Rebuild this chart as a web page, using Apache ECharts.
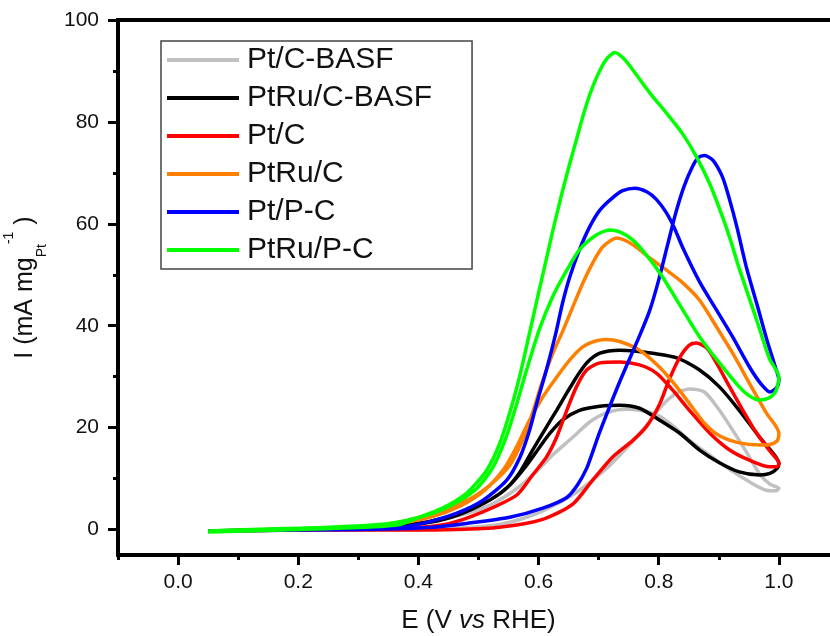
<!DOCTYPE html>
<html>
<head>
<meta charset="utf-8">
<script src="https://cdn.jsdelivr.net/npm/echarts@6/dist/echarts.min.js"></script>
<style>
  html, body { margin: 0; padding: 0; background: #fff; }
  #chart { width: 830px; height: 636px; }
</style>
</head>
<body>
<div id="chart"></div>
<script>
// [E (V vs RHE), I (mA mg_Pt^-1)] — forward scan then backward scan
var ptcBasf = [
  [0.05, -0.3], [0.2, -0.1], [0.37, 0], [0.46, 0.25], [0.535, 1.0], [0.585, 2.6], [0.627, 4.8],
  [0.668, 7.7], [0.713, 12.0], [0.751, 16.6], [0.78, 20.5], [0.806, 24.4], [0.83, 26.8],
  [0.851, 27.6], [0.876, 27.0], [0.901, 23.4], [0.923, 19.5], [0.946, 15.2], [0.968, 10.9],
  [0.985, 8.9], [1.0, 8.1],
  [0.995, 7.6], [0.979, 7.7], [0.946, 9.7], [0.913, 12.2], [0.88, 15.0], [0.851, 17.5],
  [0.822, 20.5], [0.796, 22.6], [0.768, 23.4], [0.746, 23.6], [0.713, 22.9], [0.685, 21.1],
  [0.657, 18.1], [0.623, 14.6], [0.594, 11.1], [0.56, 7.7], [0.519, 4.8], [0.469, 2.8],
  [0.402, 1.2], [0.319, 0.45], [0.2, 0.06], [0.05, -0.3]
];
var ptruBasf = [
  [0.05, -0.3], [0.2, 0], [0.335, 0.25], [0.419, 1.4], [0.469, 3.0], [0.51, 5.2], [0.543, 7.7],
  [0.568, 11.1], [0.59, 15.6], [0.613, 20.1], [0.63, 23.4], [0.647, 26.8], [0.663, 29.9],
  [0.68, 32.7], [0.702, 34.6], [0.735, 35.2], [0.763, 35.0], [0.79, 34.6], [0.83, 33.7],
  [0.868, 31.3], [0.901, 28.0], [0.934, 23.4], [0.968, 18.1], [0.99, 15.0], [1.0, 13.0],
  [0.997, 12.0], [0.985, 11.0], [0.968, 10.7], [0.934, 11.3], [0.901, 13.1], [0.868, 15.6],
  [0.835, 18.9], [0.801, 21.5], [0.768, 23.8], [0.735, 24.4], [0.702, 24.2], [0.668, 23.4],
  [0.64, 21.5], [0.619, 18.9], [0.602, 16.2], [0.58, 12.6], [0.552, 8.7], [0.519, 5.8],
  [0.469, 3.2], [0.419, 1.6], [0.352, 0.65], [0.252, 0.25], [0.05, -0.3]
];
var ptc = [
  [0.05, -0.3], [0.2, -0.1], [0.369, -0.1], [0.464, 0], [0.535, 0.45], [0.607, 2.0],
  [0.657, 5.0], [0.69, 9.7], [0.723, 14.2], [0.757, 17.5], [0.78, 20.3], [0.801, 24.5],
  [0.818, 29.6], [0.835, 33.8], [0.851, 36.2], [0.863, 36.6], [0.88, 35.6], [0.896, 32.7],
  [0.918, 28.0], [0.94, 23.4], [0.963, 18.9], [0.985, 15.4], [1.0, 13.0],
  [0.997, 12.3], [0.985, 12.3], [0.951, 13.6], [0.918, 15.6], [0.885, 18.9], [0.851, 23.4],
  [0.823, 27.4], [0.796, 30.7], [0.768, 32.3], [0.735, 32.9], [0.702, 32.7], [0.68, 31.3],
  [0.663, 28.0], [0.647, 23.4], [0.63, 18.1], [0.613, 14.2], [0.59, 10.7], [0.563, 6.7],
  [0.502, 3.2], [0.452, 1.2], [0.402, 0.45], [0.286, 0.06], [0.05, -0.3]
];
var ptruc = [
  [0.05, -0.3], [0.2, 0], [0.319, 0.25], [0.402, 2.4], [0.452, 4.4], [0.49, 6.3], [0.523, 9.1],
  [0.552, 12.6], [0.573, 17.4], [0.59, 22.9], [0.605, 28.6], [0.623, 34.4], [0.64, 38.9],
  [0.657, 43.7], [0.673, 48.2], [0.69, 52.3], [0.707, 55.5], [0.73, 57.2], [0.757, 55.9],
  [0.785, 53.3], [0.813, 50.9], [0.84, 48.4], [0.868, 45.0], [0.896, 39.8], [0.923, 34.6],
  [0.951, 28.7], [0.979, 22.9], [1.0, 18.9],
  [0.997, 17.4], [0.985, 16.7], [0.968, 16.6], [0.934, 17.0], [0.901, 18.4], [0.878, 20.6],
  [0.857, 23.8], [0.83, 28.0], [0.801, 31.9], [0.768, 35.2], [0.735, 36.9], [0.713, 37.3],
  [0.695, 37.0], [0.673, 35.8], [0.652, 33.3], [0.63, 29.9], [0.607, 26.0], [0.585, 21.5],
  [0.565, 16.6], [0.543, 12.0], [0.51, 7.7], [0.469, 4.6], [0.419, 2.4], [0.352, 1.0],
  [0.252, 0.25], [0.05, -0.3]
];
var ptPc = [
  [0.05, -0.3], [0.2, -0.1], [0.335, 0.06], [0.424, 0.45], [0.48, 1.2], [0.552, 2.4],
  [0.607, 4.2], [0.647, 6.3], [0.665, 8.8], [0.68, 12.0], [0.69, 15.2], [0.702, 19.2],
  [0.735, 29.0], [0.768, 38.0], [0.785, 43.0], [0.8, 49.0], [0.815, 56.0], [0.828, 62.0],
  [0.842, 67.3], [0.856, 71.2], [0.866, 73.0], [0.876, 73.4], [0.89, 72.5], [0.906, 69.2],
  [0.918, 64.7], [0.93, 59.4], [0.946, 51.4], [0.963, 44.4], [0.98, 37.2], [0.994, 31.9],
  [1.0, 29.3],
  [0.996, 27.8], [0.985, 27.0], [0.97, 28.6], [0.951, 31.9], [0.923, 37.8], [0.896, 43.1],
  [0.868, 48.6], [0.84, 55.3], [0.826, 59.2], [0.812, 62.3], [0.796, 64.8], [0.78, 66.3],
  [0.76, 67.0], [0.74, 66.5], [0.723, 65.1], [0.702, 62.7], [0.685, 59.4], [0.668, 54.9],
  [0.652, 49.6], [0.64, 44.5], [0.628, 38.2], [0.613, 31.3], [0.597, 24.8], [0.585, 19.5],
  [0.569, 14.2], [0.547, 9.7], [0.507, 5.7], [0.464, 3.2], [0.414, 1.4], [0.369, 0.45],
  [0.27, 0.06], [0.05, -0.3]
];
var ptruPc = [
  [0.05, -0.5], [0.2, 0], [0.319, 0.5], [0.369, 1.0], [0.397, 2.2], [0.44, 4.2], [0.48, 7.1],
  [0.514, 11.7], [0.535, 16.8], [0.552, 22.9], [0.569, 30.3], [0.585, 38.6], [0.598, 45.4],
  [0.612, 52.6], [0.625, 59.3], [0.638, 65.6], [0.65, 71.0], [0.663, 76.5], [0.675, 81.6],
  [0.688, 86.3], [0.702, 90.1], [0.715, 92.6], [0.727, 93.6], [0.742, 92.4], [0.757, 90.2],
  [0.785, 85.7], [0.813, 81.7], [0.84, 77.6], [0.863, 73.1], [0.885, 67.8], [0.906, 61.4],
  [0.92, 56.6], [0.934, 51.2], [0.963, 41.1], [0.984, 33.6], [1.0, 29.9],
  [0.995, 27.2], [0.983, 25.8], [0.968, 25.4], [0.95, 26.3], [0.934, 28.0], [0.901, 32.7],
  [0.868, 37.8], [0.84, 43.1], [0.806, 49.6], [0.78, 53.8], [0.757, 56.8], [0.735, 58.4],
  [0.718, 58.8], [0.696, 57.8], [0.668, 54.9], [0.647, 50.9], [0.623, 45.6], [0.601, 39.2],
  [0.58, 31.3], [0.562, 24.0], [0.545, 17.8], [0.523, 12.0], [0.494, 7.7], [0.452, 4.6],
  [0.402, 2.4], [0.352, 1.2], [0.252, 0.45], [0.136, 0.06], [0.05, -0.3]
];

var seriesNames = ['Pt/C-BASF', 'PtRu/C-BASF', 'Pt/C', 'PtRu/C', 'Pt/P-C', 'PtRu/P-C'];
var seriesColors = ['#c0c0c0', '#000000', '#ff0000', '#ff8000', '#0000ff', '#00ff00'];
var seriesData = [ptcBasf, ptruBasf, ptc, ptruc, ptPc, ptruPc];

var xMajorTicks = [0, 0.2, 0.4, 0.6, 0.8, 1.0];
var xMinorTicks = [-0.1, 0.1, 0.3, 0.5, 0.7, 0.9];
var yMajorTicks = [0, 20, 40, 60, 80, 100];
var yMinorTicks = [10, 30, 50, 70, 90];

var font = 'Liberation Sans, Arial, sans-serif';
var chart = echarts.init(document.getElementById('chart'));

chart.setOption({
  animation: false,
  backgroundColor: '#fff',
  grid: {
    left: 118, top: 20, width: 721, height: 535,
    outerBoundsMode: 'none', containLabel: false,
    show: true, borderColor: '#000', borderWidth: 4
  },
  legend: {
    orient: 'vertical',
    left: 161, top: 41,
    padding: [4, 40, 4, 6],
    borderColor: '#444', borderWidth: 1.5,
    itemWidth: 72, itemHeight: 4, itemGap: 8,
    icon: 'rect',
    textStyle: { fontFamily: font, fontSize: 30, lineHeight: 30, color: '#111', padding: [0, 0, 0, 3] },
    data: seriesNames
  },
  xAxis: [{
    type: 'value', min: -0.1, max: 1.1, position: 'bottom',
    name: '{a|E (V }{i|vs}{a| RHE)}',
    nameLocation: 'middle', nameGap: 53,
    nameTextStyle: {
      rich: {
        a: { fontFamily: font, fontSize: 26, color: '#111' },
        i: { fontFamily: font, fontSize: 26, fontStyle: 'italic', color: '#111' }
      }
    },
    axisLine: { onZero: false, lineStyle: { color: '#000', width: 4 } },
    axisTick: { customValues: xMajorTicks, length: 10, lineStyle: { width: 3, color: '#000' } },
    axisLabel: {
      customValues: xMajorTicks, margin: 17,
      fontFamily: font, fontSize: 21, color: '#111',
      formatter: function (v) { return v.toFixed(1); }
    },
    splitLine: { show: false }
  }, {
    type: 'value', min: -0.1, max: 1.1, position: 'bottom',
    axisLine: { show: false, onZero: false },
    axisTick: { customValues: xMinorTicks, length: 5, lineStyle: { width: 3, color: '#000' } },
    axisLabel: { show: false },
    splitLine: { show: false }
  }],
  yAxis: [{
    type: 'value', min: -5, max: 100, position: 'left',
    name: '{a|I (mA mg}{b|Pt}{c|-1}{a| )}',
    nameLocation: 'middle', nameGap: 69, nameRotate: 90,
    nameTextStyle: {
      rich: {
        a: { fontFamily: font, fontSize: 25, lineHeight: 47, color: '#111' },
        b: { fontFamily: font, fontSize: 14, lineHeight: 14, verticalAlign: 'bottom', color: '#111' },
        c: { fontFamily: font, fontSize: 14, lineHeight: 20, verticalAlign: 'top', color: '#111' }
      }
    },
    axisLine: { onZero: false, lineStyle: { color: '#000', width: 4 } },
    axisTick: { customValues: yMajorTicks, length: 10, lineStyle: { width: 3, color: '#000' } },
    axisLabel: {
      customValues: yMajorTicks, margin: 19,
      fontFamily: font, fontSize: 21, color: '#111'
    },
    splitLine: { show: false }
  }, {
    type: 'value', min: -5, max: 100, position: 'left',
    axisLine: { show: false, onZero: false },
    axisTick: { customValues: yMinorTicks, length: 5, lineStyle: { width: 3, color: '#000' } },
    axisLabel: { show: false },
    splitLine: { show: false }
  }],
  series: seriesNames.map(function (name, i) {
    return {
      name: name,
      type: 'line',
      xAxisIndex: 0,
      yAxisIndex: 0,
      data: seriesData[i],
      smooth: 0.25,
      symbol: 'none',
      color: seriesColors[i],
      lineStyle: { width: 3.5, color: seriesColors[i] },
      z: 2 + i
    };
  })
});
</script>
</body>
</html>
